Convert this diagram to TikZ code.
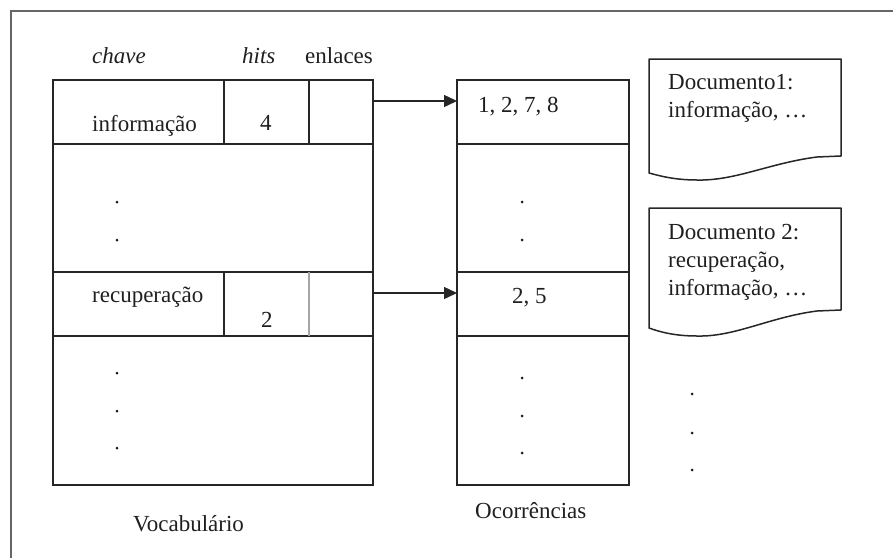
\documentclass[tikz,border=0pt]{standalone}
\usepackage{fontspec}
\setmainfont{Liberation Serif}
\usetikzlibrary{arrows.meta}
\begin{document}
\begin{tikzpicture}[x=1pt,y=-1pt,
  ln/.style={draw=black!85, line width=1.5pt},
  box/.style={ln, inner sep=0pt, outer sep=0pt, anchor=north west},
  cell/.style={inner sep=0pt, outer sep=0pt, anchor=north west},
  txt/.style={inner sep=0pt, anchor=base west, text=black!88, font=\fontsize{23pt}{28pt}\selectfont},
  arr/.style={ln, -{Triangle[length=13pt,width=12pt]}},
  dot/.style={fill=black!90},
  doc/.style={ln, line join=round}]
\useasboundingbox (0,0) rectangle (893,557);

% outer frame (only its top and left edges fall on the page)
\draw[line width=2pt, black!60] (11,570) -- (11,11) -- (905,11);

% ---- vocabulary table ----
\node[box, minimum width=320pt, minimum height=64pt]  (v1) at (53,80)  {};
\node[box, minimum width=320pt, minimum height=128pt] (v2) at (53,144) {};
\node[box, minimum width=320pt, minimum height=64pt]  (v3) at (53,272) {};
\node[box, minimum width=320pt, minimum height=149pt] (v4) at (53,336) {};
\node[cell, minimum width=85pt, minimum height=64pt] (vh1) at (224,80)  {};
\node[cell, minimum width=64pt, minimum height=64pt] (vl1) at (309,80)  {};
\node[cell, minimum width=85pt, minimum height=64pt] (vh3) at (224,272) {};
\node[cell, minimum width=64pt, minimum height=64pt] (vl3) at (309,272) {};
\draw[ln] (vh1.north west) -- (vh1.south west);
\draw[ln] (vl1.north west) -- (vl1.south west);
\draw[ln] (vh3.north west) -- (vh3.south west);
\draw[line width=1.5pt, black!35] (vl3.north west) -- (vl3.south west);

\node[txt, font=\fontsize{23pt}{28pt}\itshape] (hk) at (92,63)  {chave};
\node[txt, font=\fontsize{23pt}{28pt}\itshape] (hh) at (242,63) {hits};
\node[txt] (hl) at (305,63) {enlaces};

\node[txt] (k1) at (92,131)  {informação};
\node[txt] (n1) at (260,130) {4};
\node[txt] (k3) at (92,302)  {recuperação};
\node[txt] (n3) at (261,327) {2};

\foreach \y in {202,240,373,411,448} \fill[dot] (117,\y) circle (1.5);

\node[txt] (vcap) at (133,531) {Vocabulário};

% ---- occurrence lists ----
\node[box, minimum width=172pt, minimum height=64pt]  (o1) at (457,80)  {};
\node[box, minimum width=172pt, minimum height=128pt] (o2) at (457,144) {};
\node[box, minimum width=172pt, minimum height=64pt]  (o3) at (457,272) {};
\node[box, minimum width=172pt, minimum height=149pt] (o4) at (457,336) {};

\node[txt] (p1) at (478,112) {1, 2, 7, 8};
\node[txt] (p3) at (512,303) {2, 5};

\foreach \y in {202,240,378,416,453} \fill[dot] (522,\y) circle (1.5);

\node[txt] (ocap) at (475,518) {Ocorrências};

% ---- links ----
\draw[arr] ([yshift=11pt]vl1.east) -- ([yshift=11pt]o1.west);
\draw[arr] ([yshift=11pt]vl3.east) -- ([yshift=11pt]o3.west);

% ---- documents ----
\draw[doc] (649,173) -- (649,59) -- (841,59) -- (841,156) -- (817,157)
  .. controls (770,163) and (735,181) .. (697,180)
  .. controls (675,180) and (660,176) .. (649,173) -- cycle;
\node[txt] (d1a) at (668,89)  {Documento1:};
\node[txt] (d1b) at (668,117) {informação, …};

\draw[doc] (649,328) -- (649,208) -- (841,208) -- (841,310) -- (817,311)
  .. controls (770,317) and (735,337) .. (697,336)
  .. controls (675,336) and (660,332) .. (649,328) -- cycle;
\node[txt] (d2a) at (668,239) {Documento 2:};
\node[txt] (d2b) at (668,267) {recuperação,};
\node[txt] (d2c) at (668,295) {informação, …};

\foreach \y in {394,433,470} \fill[dot] (692,\y) circle (1.5);
\end{tikzpicture}
\end{document}
